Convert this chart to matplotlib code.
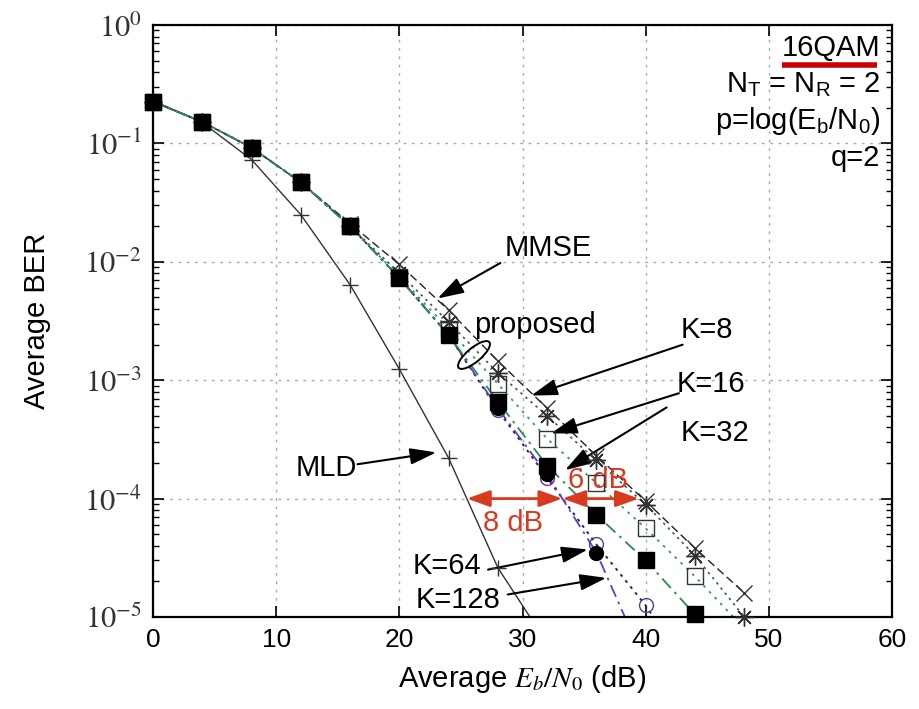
import numpy as np
import matplotlib.pyplot as plt
from matplotlib.patches import Ellipse

plt.rcParams['font.family'] = ['Liberation Sans', 'DejaVu Sans']
plt.rcParams['mathtext.fontset'] = 'custom'
plt.rcParams['mathtext.rm'] = 'Liberation Sans'
plt.rcParams['mathtext.it'] = 'Liberation Sans:italic'

# Eb/N0 points (dB) and measured BER for each detector
snr = [0, 4, 8, 12, 16, 20, 24, 28, 32, 36, 40, 44, 48]
ber_mld = [0.23, 0.15, 0.073, 0.025, 0.0064, 1.24e-3, 2.2e-4, 2.6e-5, 6e-6]
ber_mmse = [0.225, 0.152, 0.092, 0.047, 0.021, 0.0095, 0.0039, 1.45e-3,
            5.8e-4, 2.3e-4, 9.5e-5, 3.8e-5, 1.6e-5]
ber_k8 = [0.225, 0.152, 0.092, 0.047, 0.020, 0.0080, 0.0031, 1.15e-3,
          5.0e-4, 2.1e-4, 8.9e-5, 3.3e-5, 1.0e-5]
ber_k16 = [0.225, 0.152, 0.092, 0.047, 0.020, 0.0075, 0.0027, 9.3e-4,
           3.2e-4, 1.35e-4, 5.6e-5, 2.2e-5, 8e-6]
ber_k32 = [0.225, 0.152, 0.092, 0.047, 0.020, 0.0073, 0.0024, 6.6e-4,
           1.9e-4, 7.3e-5, 3.0e-5, 1.05e-5]
ber_k64 = [0.225, 0.152, 0.092, 0.047, 0.020, 0.0073, 0.0024, 5.8e-4,
           1.6e-4, 3.5e-5, 4e-6]
ber_k128 = [0.225, 0.152, 0.092, 0.047, 0.020, 0.0073, 0.0024, 5.6e-4,
            1.5e-4, 4.1e-5, 1.25e-5, 3e-6]

fig = plt.figure(figsize=(9.2, 7.09), dpi=100)
ax = fig.add_axes([0.1663, 0.1298, 0.8033, 0.8349])
ax.set_yscale('log')
ax.set_xlim(0, 60)
ax.set_ylim(1e-5, 1)

def curve(y, color, dashes, marker, ms, mfc, mec, z, lw=1.0):
    x = snr[:len(y)]
    line, = ax.plot(x, y, color=color, lw=lw)
    if dashes:
        line.set_dashes(dashes)
    # markers are not clipped so the ones on the frame stick out past it
    xs = [a for a, b in zip(x, y) if b >= 9.5e-6]
    ys = [b for b in y if b >= 9.5e-6]
    ax.plot(xs, ys, ls='none', marker=marker, ms=ms, mfc=mfc, mec=mec,
            mew=1.0, clip_on=False, zorder=z)

curve(ber_mld, '#333333', None, '+', 12, 'none', '#333333', 3.1)
curve(ber_k128, '#302060', (1.5, 2.5), 'o', 10, 'none', '#5a3a9a', 3.2, lw=1.4)
curve(ber_k64, '#6040c0', (7, 3, 1.5, 3), 'o', 10, 'black', 'black', 3.3, lw=1.3)
curve(ber_mmse, '#222222', (6, 3), 'x', 11, 'none', '#333333', 3.4)
curve(ber_k8, '#3a5a5a', (1.5, 2.5), (8, 2, 0), 13, 'none', '#333333', 3.5, lw=1.2)
curve(ber_k16, '#3a9a70', (1.5, 3), 's', 11, 'none', '#333333', 3.6, lw=1.3)
curve(ber_k32, '#2a8a4a', (7, 3, 1.5, 3), 's', 11, 'black', 'black', 3.7, lw=1.3)

# axes styling
for s in ax.spines.values():
    s.set_linewidth(1.6)
ax.set_xticks([0, 10, 20, 30, 40, 50, 60])
ax.tick_params(which='both', direction='in', top=True, right=True)
ax.tick_params(which='major', length=8, width=1.2, labelsize=19, pad=8)
ax.tick_params(which='minor', length=4, width=1.0)
ax.tick_params(axis='x', which='minor', bottom=False, top=False)
ax.set_yticks([1e-5, 1e-4, 1e-3, 1e-2, 1e-1, 1])
ax.set_yticklabels([r'$10^{%d}$' % k for k in range(-5, 1)])
for t in ax.get_yticklabels():
    t.set_math_fontfamily('stix')
    t.set_fontsize(22)
    t.set_color('#333333')
ax.grid(True, which='major', color='#aaaaaa', ls=(0, (2, 4)), lw=1.0)

ax.set_ylabel('Average BER', fontsize=21, labelpad=24)
xl = ax.set_xlabel(r'Average $E_b/N_0$ (dB)', fontsize=21, labelpad=8)
xl.set_math_fontfamily('stix')

# simulation parameters, top right
ax.text(0.984, 0.961, '16QAM', transform=ax.transAxes, ha='right', va='center', fontsize=21)
ax.plot([0.851, 0.980], [0.932, 0.932], transform=ax.transAxes, color='#cc0000', lw=4,
        solid_capstyle='butt', clip_on=False)
ax.text(0.984, 0.900, r'N$_\mathrm{T}$ = N$_\mathrm{R}$ = 2', transform=ax.transAxes,
        ha='right', va='center', fontsize=21)
ax.text(0.984, 0.838, r'p=log(E$_\mathrm{b}$/N$_\mathrm{0}$)', transform=ax.transAxes,
        ha='right', va='center', fontsize=21)
ax.text(0.984, 0.776, 'q=2', transform=ax.transAxes, ha='right', va='center', fontsize=21)

# labelled arrows pointing at the curves
arrow = dict(arrowstyle='-|>,head_length=0.8,head_width=0.25', color='black', lw=1.5,
             mutation_scale=20, shrinkA=0, shrinkB=0)
labels = [
    ('MMSE', (32.1, 10**-1.88), (28.2, 10**-2.01), (23.1, 10**-2.31)),
    ('K=8', (45.0, 10**-2.58), (43.0, 10**-2.70), (30.7, 10**-3.13)),
    ('K=16', (45.3, 10**-3.03), (42.7, 10**-3.11), (32.3, 10**-3.45)),
    ('K=32', (45.6, 10**-3.45), (41.7, 10**-3.23), (33.45, 10**-3.76)),
    ('MLD', (14.05, 10**-3.74), (16.6, 10**-3.71), (23.0, 10**-3.61)),
    ('K=64', (23.9, 10**-4.57), (27.2, 10**-4.60), (35.3, 10**-4.43)),
    ('K=128', (24.8, 10**-4.86), (28.8, 10**-4.81), (36.8, 10**-4.67)),
]
for txt, pos, tail, head in labels:
    ax.text(pos[0], pos[1], txt, ha='center', va='center', fontsize=21)
    ax.annotate('', xy=head, xytext=tail, arrowprops=arrow)

ax.text(31.0, 10**-2.53, 'proposed', ha='center', va='center', fontsize=21)
fig.patches.append(Ellipse((4.74, 3.54), 0.40, 0.14, angle=40, fill=False, lw=1.4,
                           ec='black', transform=fig.dpi_scale_trans))

# SNR gaps at BER = 1e-4 in log space
def crossing(y, level=1e-4):
    ly = np.log10(y)[::-1]
    return np.interp(np.log10(level), ly, snr[:len(y)][::-1])

x_mld = crossing(ber_mld)
x_k64 = crossing(ber_k64)
x_k8 = crossing(ber_k8)
red = '#d83a20'
red_arrow = dict(arrowstyle='<|-|>,head_length=0.7,head_width=0.25', color=red, lw=2,
                 mutation_scale=20, shrinkA=0, shrinkB=0)
ax.annotate('', xy=(x_k64, 1e-4), xytext=(x_mld, 1e-4), arrowprops=red_arrow)
ax.annotate('', xy=(x_k8, 1e-4), xytext=(x_k64, 1e-4), arrowprops=red_arrow)
ax.text(29.2, 10**-4.21, '8 dB', color=red, ha='center', va='center', fontsize=21)
ax.text(36.1, 10**-3.84, '6 dB', color=red, ha='center', va='center', fontsize=21)

fig.savefig('out.png', dpi=100, facecolor='white')
